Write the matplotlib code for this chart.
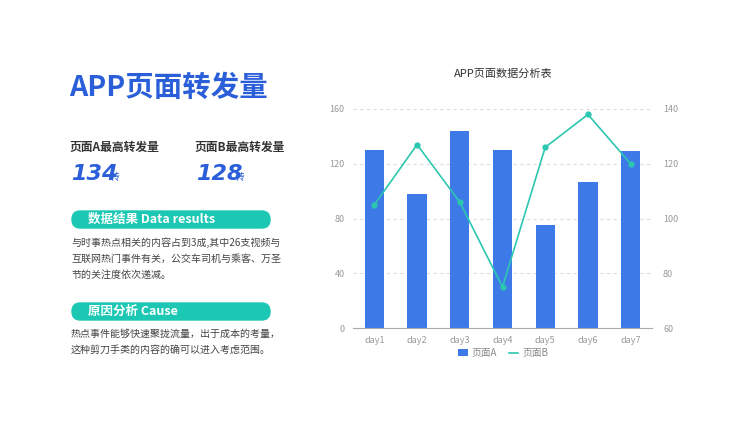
import matplotlib.pyplot as plt
from matplotlib.patches import FancyBboxPatch
from matplotlib.lines import Line2D

plt.rcParams['font.family'] = ['Noto Sans CJK SC', 'DejaVu Sans']

days = ['day1', 'day2', 'day3', 'day4', 'day5', 'day6', 'day7']
page_a = [130, 98, 144, 130, 75, 107, 129]
page_b = [105, 127, 106, 75, 126, 138, 120]

W, H = 750, 422
fig = plt.figure(figsize=(7.5, 4.22), dpi=100)

def fx(x): return x / W
def fy(y): return 1 - y / H

blue = '#2b5fd9'
teal = '#1cc8b4'
dark = '#333333'

# left panel
fig.text(fx(69), fy(88), 'APP页面转发量', fontsize=20.5, fontweight='bold', color=blue, va='center')
fig.text(fx(70), fy(147), '页面A最高转发量', fontsize=8.5, fontweight='bold', color=dark, va='center')
fig.text(fx(195), fy(147), '页面B最高转发量', fontsize=8.5, fontweight='bold', color=dark, va='center')
fig.text(fx(71), fy(174), '134', fontsize=16, fontweight='bold', style='italic', family='DejaVu Sans',
         color=blue, va='center')
fig.text(fx(110), fy(177), '转', fontsize=7, color=blue, va='center')
fig.text(fx(196), fy(174), '128', fontsize=16, fontweight='bold', style='italic', family='DejaVu Sans',
         color=blue, va='center')
fig.text(fx(235), fy(177), '转', fontsize=7, color=blue, va='center')

for y0, label in [(211, '数据结果 Data results'), (303, '原因分析 Cause')]:
    fig.patches.append(FancyBboxPatch((fx(72), fy(y0 + 17)), fx(198), 17 / H,
                                      boxstyle='round,pad=0,rounding_size=0.011',
                                      transform=fig.transFigure, color=teal, mutation_aspect=1.8))
    fig.text(fx(88), fy(y0 + 8.5), label, fontsize=9, fontweight='bold', color='white', va='center')

body1 = ['与时事热点相关的内容占到3成,其中26支视频与',
         '互联网热门事件有关，公交车司机与乘客、万圣',
         '节的关注度依次递减。']
body2 = ['热点事件能够快速聚拢流量，出于成本的考量，',
         '这种剪刀手类的内容的确可以进入考虑范围。']
for i, t in enumerate(body1):
    fig.text(fx(71), fy(243 + i * 16), t, fontsize=7.2, color='#444444', va='center')
for i, t in enumerate(body2):
    fig.text(fx(71), fy(334 + i * 16), t, fontsize=7.2, color='#444444', va='center')

# chart
ax = fig.add_axes([fx(353), fy(328), fx(299), (328 - 109) / H])
x = range(len(days))
ax.bar(x, page_a, width=0.45, color='#3d7ae8', label='页面A', zorder=2)
ax.set_ylim(0, 160)
ax.set_yticks([0, 40, 80, 120, 160])
ax.set_xlim(-0.5, 6.5)
ax.set_xticks(list(x))
ax.set_xticklabels(days)
ax.grid(axis='y', linestyle=(0, (3, 3)), color='#dddddd', linewidth=0.8, zorder=0)
for s in ['top', 'left', 'right']:
    ax.spines[s].set_visible(False)
ax.spines['bottom'].set_color('#aaaaaa')
ax.tick_params(length=0, labelsize=6.5, colors='#999999', pad=6)

ax2 = ax.twinx()
ax2.plot(x, page_b, color='#2cc7b0', linewidth=1.2, marker='o', markersize=3.5, label='页面B')
ax2.set_ylim(60, 140)
ax2.set_yticks([60, 80, 100, 120, 140])
for s in ax2.spines.values():
    s.set_visible(False)
ax2.tick_params(length=0, labelsize=6.5, colors='#999999', pad=8)

fig.text(fx(503), fy(74), 'APP页面数据分析表', fontsize=8, color='#333333', ha='center', va='center')

h1, l1 = ax.get_legend_handles_labels()
h2 = [Line2D([], [], color='#2cc7b0', linewidth=1.2)]
fig.legend(h1 + h2, l1 + ['页面B'], loc='center', bbox_to_anchor=(fx(503), fy(353)), ncol=2,
           frameon=False, fontsize=7, labelcolor='#888888', handlelength=1.0, handleheight=0.7,
           columnspacing=1.2, handletextpad=0.4)

fig.savefig('out.png', dpi=100)
